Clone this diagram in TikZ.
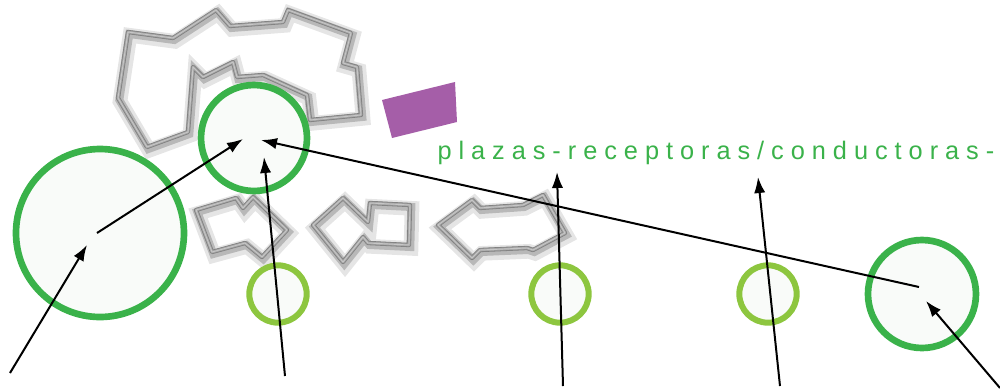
\documentclass[tikz,border=0pt]{standalone}
\usepackage{fontspec}
\setmainfont{Liberation Sans}
\newfontfamily\spacedfont[LetterSpace=27.5]{Liberation Sans}
\usetikzlibrary{calc,arrows.meta}
\definecolor{dgreen}{RGB}{58,178,74}
\definecolor{lgreen}{RGB}{141,198,63}
\definecolor{plum}{RGB}{165,94,168}
\definecolor{paper}{RGB}{249,251,249}
\tikzset{every picture/.style={line width=0.75pt}}
\tikzset{
  bigring/.style={circle, draw=dgreen, fill=paper, line width=5pt, inner sep=0pt},
  smallring/.style={circle, draw=lgreen, fill=paper, line width=4.5pt, inner sep=0pt, minimum size=43pt},
  block/.style={draw=black!50, line width=3.2pt, line join=round,
    preaction={draw=black!10, line width=11pt, transform canvas={shift={(1.5pt,-2.5pt)}}},
    preaction={draw=black!28, line width=6pt, transform canvas={shift={(1pt,-1.5pt)}}},
    postaction={draw=gray!70, line width=2pt},
    postaction={draw=gray!45, line width=0.7pt}},
  pointer/.style={-{Latex[length=12pt,width=8.5pt]}, line width=1.5pt}
}

\begin{document}
\begin{tikzpicture}[x=0.75pt,y=0.75pt,yscale=-1,xscale=1]
\useasboundingbox (0,0) rectangle (1000,390);

%Shape: Polygon [top block]
\draw [block] (128,32) -- (173,38) -- (216,10) -- (230,26) -- (283,22) -- (288,10) -- (351,33) -- (343,63) -- (357,67) -- (361,115) -- (310,120) -- (307,95) -- (263,75) -- (237,77) -- (233,62) -- (203,77) -- (193,67) -- (188,132) -- (147,147) -- (118,98) -- cycle ;
%Shape: Polygon [block one]
\draw [block] (196,210) -- (236,198) -- (243,208) -- (253,197) -- (287,230) -- (262,257) -- (245,243) -- (212,252) -- cycle ;
%Shape: Polygon [block two]
\draw [block] (313,225) -- (343,198) -- (368,222) -- (370,203) -- (410,205) -- (409,245) -- (368,243) -- (363,237) -- (343,262) -- cycle ;
%Shape: Polygon [block three]
\draw [block] (438,225) -- (472,200) -- (480,208) -- (523,205) -- (543,195) -- (565,233) -- (533,250) -- (527,248) -- (480,250) -- (472,258) -- cycle ;
%Shape: Rectangle [purple]
\fill [plum] (382,100) -- (455,82) -- (457,122) -- (392,138) -- cycle ;

%Shape: Circles
\node (big) [bigring, minimum size=126pt] at (100,233) {};
\node (top) [bigring, minimum size=79.5pt] at (254,138) {};
\node (right) [bigring, minimum size=81pt] at (922,294) {};
\node (ringa) [smallring] at (278,294) {};
\node (ringb) [smallring] at (560,294) {};
\node (ringc) [smallring] at (768,294) {};

% Text Node
\node (label) [anchor=base west, inner sep=0pt, text=dgreen, font=\spacedfont\fontsize{19}{22}\selectfont] at (437,159) {plazas-receptoras/conductoras-};

%Free ends
\coordinate (s1) at (10,373);
\coordinate (s3) at (285,376);
\coordinate (s5) at (1000,388);
\coordinate (s6) at (563,386);
\coordinate (t6) at (557,172);
\coordinate (s7) at (780,386);
\coordinate (t7) at (758,177);

%Arrows
\draw [pointer] (s1) -- ($(big.center)+(-13,12)$) ;
\draw [pointer] ($(big.center)+(-3,0)$) -- ($(top.center)+(-11,1)$) ;
\draw [pointer] (s3) -- ($(top.center)+(10,19)$) ;
\draw [pointer] ($(right.center)+(-3,-7)$) -- ($(top.center)+(7,2)$) ;
\draw [pointer] (s5) -- ($(right.center)+(4,7)$) ;
\draw [pointer] (s6) -- (t6) ;
\draw [pointer] (s7) -- (t7) ;

\end{tikzpicture}
\end{document}
